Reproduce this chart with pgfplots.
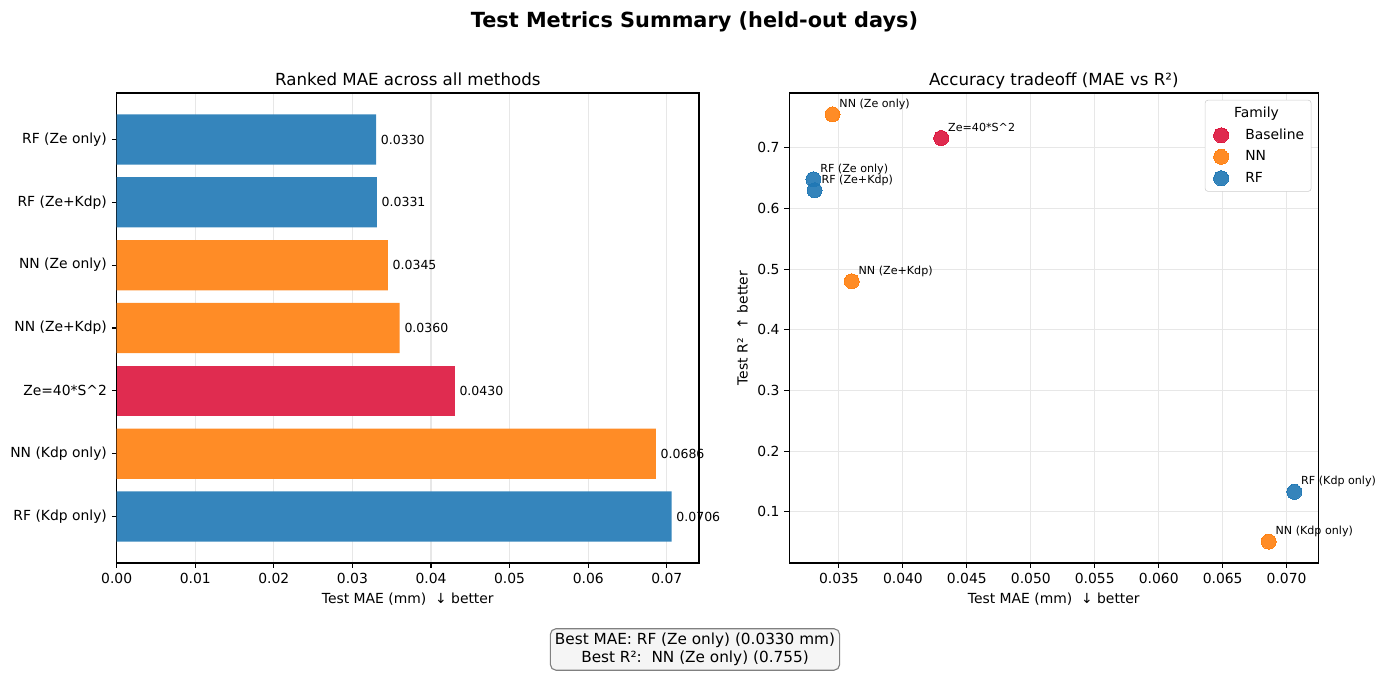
\documentclass[border=0pt]{standalone}
\usepackage{pgfplots}
\pgfplotsset{compat=1.18}
\usepackage{fontspec}
\setmainfont{DejaVu Sans}

% family colours (bars are the plain colours blended at 90% over white)
\definecolor{cblue}{RGB}{53,133,188}
\definecolor{corange}{RGB}{255,140,38}
\definecolor{cred}{RGB}{224,44,80}
\definecolor{mblue}{HTML}{1F77B4}
\definecolor{morange}{HTML}{FF7F0E}
\definecolor{mred}{HTML}{DC143C}
\definecolor{gridc}{RGB}{231,231,231}
\definecolor{boxfill}{HTML}{F5F5F5}

\pgfplotsset{
  panel/.style={
    scale only axis,
    axis line style={line width=0.8pt},
    tick align=outside,
    tick pos=left,
    major tick style={line width=0.8pt, black},
    major tick length=3.5pt,
    tick label style={font=\fontsize{10}{12}\selectfont},
    label style={font=\fontsize{10}{12}\selectfont},
    title style={font=\fontsize{12}{14}\selectfont, anchor=base, yshift=-0.6pt},
    /pgf/number format/assume math mode=true,
    scaled ticks=false,
    grid style={gridc, line width=0.8pt},
  },
  dot/.style={only marks, mark=*, mark size=5.4pt,
    mark options={draw=#1, fill=#1, line width=0pt, opacity=0.9}},
}

\begin{document}
\begin{tikzpicture}[x=1pt,y=1pt]
\path (0,0) rectangle (998.64,486.72);

% overall title
\node[anchor=north, inner sep=0pt, font=\bfseries\fontsize{15}{18}\selectfont]
  at (500.0,478.4) {Test Metrics Summary (held-out days)};

% ---- ranked MAE (horizontal bars) ----
\begin{axis}[panel,
  at={(84.0pt,81.36pt)}, anchor=south west,
  width=419.3pt, height=338.4pt,
  xmin=0, xmax=0.0741,
  ymin=-0.74, ymax=6.74, y dir=reverse,
  ytick={0,1,2,3,4,5,6},
  yticklabels={RF (Ze only), RF (Ze+Kdp), NN (Ze only), NN (Ze+Kdp), Ze=40*S\textasciicircum 2, NN (Kdp only), RF (Kdp only)},
  xtick={0,0.01,0.02,0.03,0.04,0.05,0.06,0.07},
  xticklabel style={/pgf/number format/fixed, /pgf/number format/fixed zerofill, /pgf/number format/precision=2},
  xmajorgrids,
  xlabel={Test MAE (mm)\ \ ↓ better},
  title={Ranked MAE across all methods},
  xbar, bar width=0.8,
  point meta=explicit symbolic,
  nodes near coords,
  every node near coord/.append style={font=\fontsize{9}{11}\selectfont, anchor=west, text=black},
]
\addplot[fill=cblue, draw=none, bar shift=0pt] coordinates {
  (0.0330,0) [0.0330]
  (0.0331,1) [0.0331]
  (0.0706,6) [0.0706]
};
\addplot[fill=corange, draw=none, bar shift=0pt] coordinates {
  (0.0345,2) [0.0345]
  (0.0360,3) [0.0360]
  (0.0686,5) [0.0686]
};
\addplot[fill=cred, draw=none, bar shift=0pt] coordinates {
  (0.0430,4) [0.0430]
};
\end{axis}

% ---- MAE vs R2 scatter ----
\begin{axis}[panel,
  at={(568.3pt,81.36pt)}, anchor=south west,
  width=380.9pt, height=338.4pt,
  xmin=0.03112, xmax=0.07248,
  ymin=0.0158, ymax=0.7902,
  xtick={0.035,0.040,0.045,0.050,0.055,0.060,0.065,0.070},
  ytick={0.1,0.2,0.3,0.4,0.5,0.6,0.7},
  xticklabel style={/pgf/number format/fixed, /pgf/number format/fixed zerofill, /pgf/number format/precision=3},
  yticklabel style={/pgf/number format/fixed, /pgf/number format/fixed zerofill, /pgf/number format/precision=1},
  grid=major,
  xlabel={Test MAE (mm)\ \ ↓ better},
  ylabel={Test R²\ \ ↑ better},
  title={Accuracy tradeoff (MAE vs R²)},
  point meta=explicit symbolic,
  nodes near coords,
  every node near coord/.append style={font=\fontsize{8}{10}\selectfont, anchor=base west,
     inner sep=0pt, xshift=5pt, yshift=5pt, text=black, opacity=1},
  legend style={at={(1,1)}, anchor=north east, xshift=-5pt, yshift=-5pt,
     draw=gray!40, rounded corners=2pt, fill=white,
     font=\fontsize{10}{12}\selectfont, row sep=2.6pt, inner sep=3pt,
     /tikz/every odd column/.append style={column sep=10pt}},
  legend cell align=left,
]
\addlegendimage{empty legend}
\addlegendentry{\hspace{-8pt}Family}
\addplot[dot=mred] coordinates {
  (0.0430,0.716) [Ze=40*S\textasciicircum 2]
};
\addlegendentry{Baseline}
\addplot[dot=morange] coordinates {
  (0.0345,0.755) [NN (Ze only)]
  (0.0360,0.480) [NN (Ze+Kdp)]
  (0.0686,0.051) [NN (Kdp only)]
};
\addlegendentry{NN}
\addplot[dot=mblue] coordinates {
  (0.0330,0.648) [RF (Ze only)]
  (0.0331,0.630) [RF (Ze+Kdp)]
  (0.0706,0.133) [RF (Kdp only)]
};
\addlegendentry{RF}
\end{axis}

% summary box
\node[draw=gray, line width=0.8pt, fill=boxfill, rounded corners=4pt, align=center,
      inner sep=3.3pt, font=\fontsize{11}{12.6}\selectfont]
  at (500.4,19.1) {Best MAE: RF (Ze only) (0.0330 mm)\\Best R²:\ \ NN (Ze only) (0.755)};
\end{tikzpicture}
\end{document}
